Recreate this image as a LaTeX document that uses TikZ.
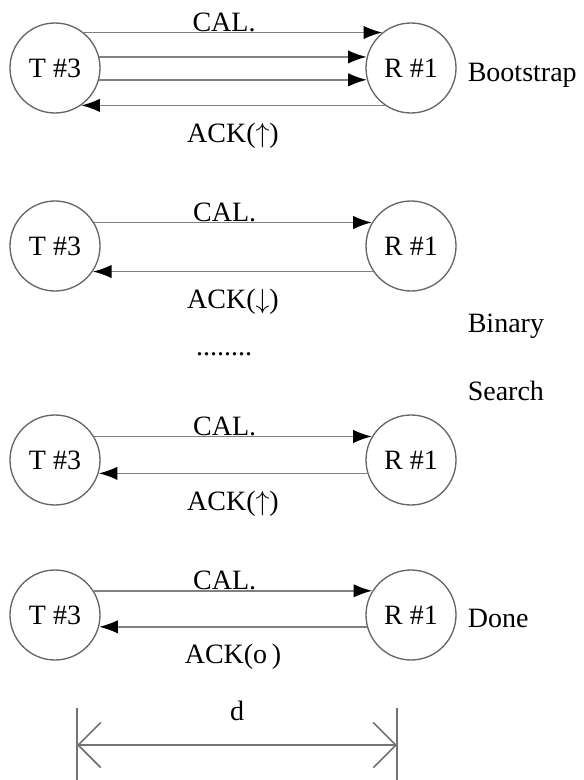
\documentclass[tikz,border=0pt]{standalone}
\usepackage{fontspec}
\setmainfont{Liberation Serif}
\usetikzlibrary{arrows.meta}

\begin{document}
\begin{tikzpicture}[x=0.75pt, y=-0.75pt, line width=1.2pt, font=\fontsize{21}{25}\selectfont,
	main/.style = {draw=black!60, line width=1pt, circle, minimum size=67.5pt, inner sep=0pt},
	msg/.style = {draw=black!50, -{Latex[length=14pt, width=10pt, color=black]}},
	cal/.style = {above, inner sep=0pt, pos=0.47},
	ack/.style = {below=9pt, midway},
	phase/.style = {anchor=base west, inner sep=0pt}]
	\useasboundingbox (0,0) rectangle (584,780);
	
	% bootstrap
	\node[main] (t1) at (55,68) {T \#3};
	\node[main] (r1) at (411,68) {R \#1};
	\node[phase] (boot) at (467,82) {Bootstrap};
	
	\draw[msg] (t1.51) -- node[cal] (cal1) {CAL.} (r1.129);
	\draw[msg] (t1.14) -- (r1.166);
	\draw[msg] (t1.-15) -- (r1.195);
	\draw[msg] (r1.235) -- node[ack] (ack1) {ACK($\uparrow$)} (t1.-55);
	
	% binary search
	\node[main] (t2) at (55,246) {T \#3};
	\node[main] (r2) at (411,246) {R \#1};
	
	\draw[msg] (t2.31) -- node[cal] (cal2) {CAL.} (r2.149);
	\draw[msg] (r2.214) -- node[ack] (ack2) {ACK($\downarrow$)} (t2.-34);
	
	\node (dots) at (224,355) [anchor=base] {........};
	\node[phase] (binary) at (467,332) {Binary};
	\node[phase] (search) at (467,400) {Search};
	
	\node[main] (t3) at (55,460) {T \#3};
	\node[main] (r3) at (411,460) {R \#1};
	
	\draw[msg] (t3.31) -- node[cal] (cal3) {CAL.} (r3.149);
	\draw[msg] (r3.197) -- node[ack] (ack3) {ACK($\uparrow$)} (t3.-17);
	
	% done
	\node[main] (t4) at (55,615) {T \#3};
	\node[main] (r4) at (411,615) {R \#1};
	\node[phase] (done) at (467,627) {Done};
	
	\draw[msg] (t4.32) -- node[cal] (cal4) {CAL.} (r4.148);
	\draw[msg] (r4.195) -- node[ack] (ack4) {ACK(o\,)} (t4.-15);
	
	% distance
	\coordinate (dl) at (77,745);
	\coordinate (dr) at (397,745);
	\draw[black!55] (dl) ++(0,-37) -- ++(0,75);
	\draw[black!55] (dr) ++(0,-37) -- ++(0,75);
	\draw[black!55, {Straight Barb[length=17pt, width=34pt]}-{Straight Barb[length=17pt, width=34pt]}] (dl) -- node[midway, above=14pt, text=black] (d) {d} (dr);
	
\end{tikzpicture}
\end{document}
